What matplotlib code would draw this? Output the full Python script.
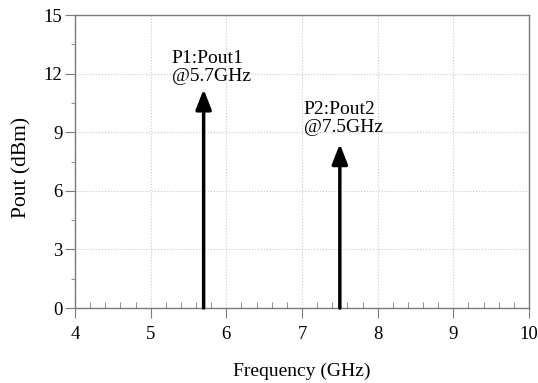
import matplotlib
matplotlib.use("Agg")
import matplotlib.pyplot as plt
from matplotlib.ticker import MultipleLocator

# Datos del gráfico
frecuencias = [5.7, 7.5]
potencias = [11.2, 8.4]
etiquetas = ["P1:Pout1\n@5.7GHz", "P2:Pout2\n@7.5GHz"]
pos_etiquetas = [(5.28, 13.2), (7.02, 10.6)]

plt.rcParams['font.family'] = ['Liberation Serif', 'DejaVu Serif']
plt.rcParams['font.size'] = 11

fig, ax = plt.subplots(figsize=(5.38, 3.83), dpi=100)
fig.subplots_adjust(left=0.1394, right=0.9833, top=0.9608, bottom=0.1958)

# Flechas verticales para cada marcador
for f, p in zip(frecuencias, potencias):
    ax.annotate('', xy=(f, p), xytext=(f, 0),
                arrowprops=dict(arrowstyle='-|>,head_length=1.1,head_width=0.43',
                                lw=2.5, color='black', shrinkA=0, shrinkB=0))

for texto, (tx, ty) in zip(etiquetas, pos_etiquetas):
    ax.text(tx, ty, texto, ha='left', va='top', fontsize=14, linespacing=1.05)

ax.set_xlim(4, 10)
ax.set_ylim(0, 15)
ax.xaxis.set_major_locator(MultipleLocator(1))
ax.xaxis.set_minor_locator(MultipleLocator(0.2))
ax.yaxis.set_major_locator(MultipleLocator(3))
ax.yaxis.set_minor_locator(MultipleLocator(1.5))

gris = '#7a7a7a'
for s in ax.spines.values():
    s.set_color(gris)
    s.set_linewidth(1.0)

ax.tick_params(axis='x', which='major', direction='out', length=7, color=gris, pad=6)
ax.tick_params(axis='x', which='minor', direction='in', length=4, color=gris)
ax.tick_params(axis='y', which='major', direction='out', length=7, color=gris, pad=2)
ax.tick_params(axis='y', which='minor', direction='out', length=3, color=gris)
ax.tick_params(labelsize=13.5)

ax.grid(True, which='major', linestyle=':', color='#c8c8c8', linewidth=0.8)

ax.set_xlabel("Frequency (GHz)", fontsize=14, labelpad=14)
ax.set_ylabel("Pout (dBm)", fontsize=15.5, labelpad=9)
ax.yaxis.label.set_y(0.48)

fig.savefig("out.png", dpi=100)
